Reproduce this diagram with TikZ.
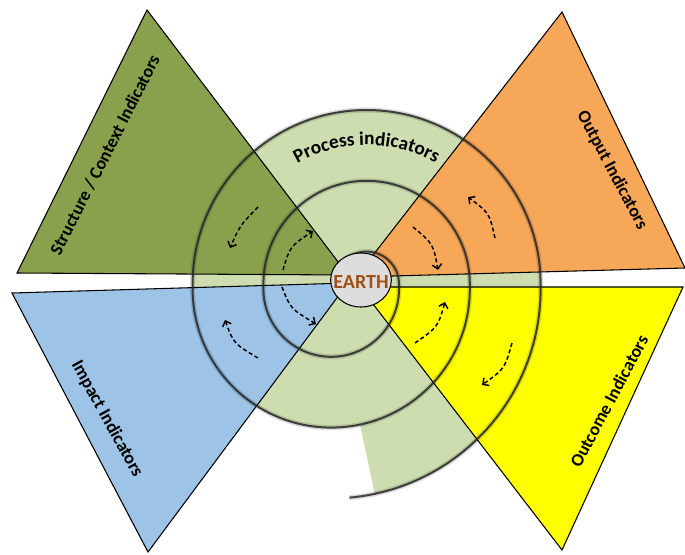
\documentclass[tikz,border=0pt]{standalone}
\usepackage{fontspec}
\setmainfont{Carlito}
\usetikzlibrary{arrows.meta,shapes.geometric,decorations.text}

\definecolor{contextgreen}{RGB}{137,161,77}
\definecolor{processgreen}{RGB}{205,221,175}
\definecolor{outputorange}{RGB}{247,167,88}
\definecolor{impactblue}{RGB}{157,195,230}
\definecolor{outcomeyellow}{RGB}{255,255,0}
\definecolor{earthgrey}{RGB}{221,221,221}
\definecolor{earthbrown}{RGB}{158,80,22}

\tikzset{
	tri/.style={draw=black, line width=0.8pt},
	ring/.style={draw=black!85, line width=1.5pt, draw opacity=0.85,
		preaction={draw=black, line width=3.8pt, draw opacity=0.14}},
	flow/.style={line width=1.1pt, dash pattern=on 3pt off 2pt,
		-{Straight Barb[length=3.5pt,width=7pt]}},
	indlabel/.style={font=\fontsize{13.5}{16}\selectfont\bfseries, inner sep=0pt},
}

\begin{document}
\begin{tikzpicture}[x=0.75pt,y=0.75pt,yscale=-1,xscale=1]
	\useasboundingbox (0,0) rectangle (685,554);
	
	%Spiral band (fill)
	\fill[processgreen] (192.6,284) arc (180:360:174) -- (540.6,289) arc (0:78:209.4)
		-- (360,424.6) arc (78:180:138.6) -- cycle;
	
	%Triangles
	\filldraw[tri, fill=contextgreen] (17,273) -- (147,10) -- (348,275) -- cycle;
	\filldraw[tri, fill=outputorange] (356,277) -- (562,12) -- (685,268) -- cycle;
	\filldraw[tri, fill=impactblue] (12,293) -- (148,552) -- (348,283) -- cycle;
	\filldraw[tri, fill=outcomeyellow] (360,287) -- (683,287) -- (562,550) -- cycle;
	
	%Spiral turns
	\draw[ring] (334.2,284) arc (180:360:32.4) -- (399,289) arc (0:180:67.8)
		-- (263.4,284) arc (180:360:103.2) -- (469.8,289) arc (0:180:138.6)
		-- (192.6,284) arc (180:360:174) -- (540.6,289) arc (0:85:209.4);
	
	%Curve Lines
	\draw[flow] (258,207) .. controls (239.9,225.6) .. (230,248);
	\draw[flow] (283,270) .. controls (289.9,246.6) .. (313,231);
	\draw[flow] (282,287) .. controls (290.5,308.6) .. (316,324);
	\draw[flow] (258,358) .. controls (233.6,343.4) .. (225,320);
	\draw[flow] (413,227) .. controls (433.2,243.8) .. (438,270);
	\draw[flow] (495,238) .. controls (489.3,213) .. (468,197);
	\draw[flow] (415,343) .. controls (437.7,327.2) .. (445,302);
	\draw[flow] (512,343) .. controls (504.7,368.7) .. (482,385);
	
	% Text along the top turn
	\path[decorate, decoration={text along path, text align=center,
		text={|\fontsize{14.5}{16}\selectfont\bfseries|Process indicators}}]
		(366.6,284) ++(200:139) arc (200:340:139);
	
	% Text Node
	\node[indlabel, rotate=63] (context) at (105,155) {Structure / Context Indicators};
	% Text Node
	\node[indlabel, rotate=-62] (output) at (612,170) {Output Indicators};
	% Text Node
	\node[indlabel, rotate=-61] (impact) at (107,419) {Impact Indicators};
	% Text Node
	\node[indlabel, rotate=62] (outcome) at (609,401) {Outcome Indicators};
	
	% Centre
	\node[ellipse, draw=black, line width=0.8pt, fill=earthgrey, minimum width=45.5pt,
		minimum height=40.5pt, inner sep=0pt] (earth) at (361,280) {};
	\node[text=earthbrown, font=\fontsize{15}{18}\selectfont\bfseries, inner sep=0pt]
		(earthname) at (361,282.5) {EARTH};
\end{tikzpicture}
\end{document}
